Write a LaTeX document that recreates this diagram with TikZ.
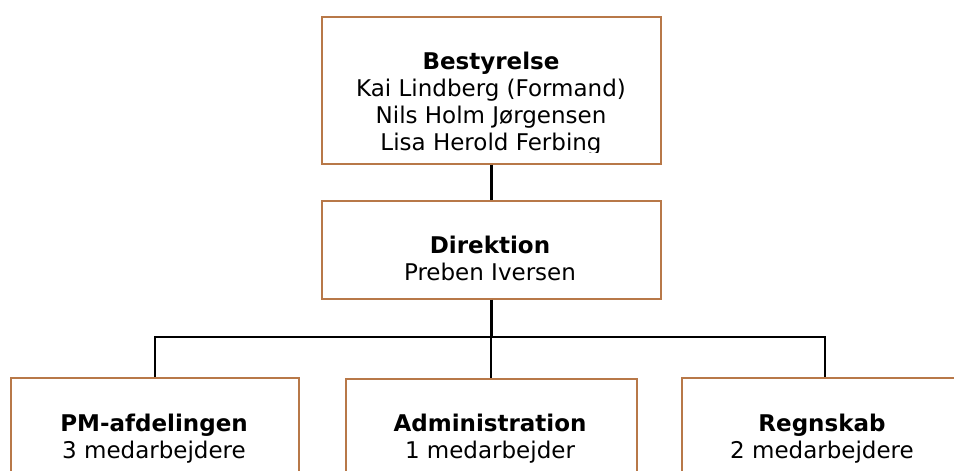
\documentclass[tikz,border=0pt]{standalone}
\usepackage{fontspec}
\setmainfont{DejaVu Sans}
\usetikzlibrary{positioning}
\definecolor{kobber}{RGB}{184,120,72}

\begin{document}
\begin{tikzpicture}
	[x=0.5pt,y=-0.5pt,every node/.style={font=\fontsize{11.5}{13.5}\selectfont,
		align=center,inner sep=0pt},
	boks/.style={rectangle,draw=kobber,line width=0.75pt,anchor=north west},
	streg/.style={black,line width=1pt}]
	\useasboundingbox (0,0) rectangle (954,471);
	\clip (0,0) rectangle (954,471);
	\node[boks,minimum width=169.5pt,minimum height=73.5pt] (best) at (321,16) {};
	\node[boks,minimum width=169.5pt,minimum height=49pt] (dir) at (321,200) {};
	\node[boks,minimum width=144pt,minimum height=75pt] (pm) at (10,377) {};
	\node[boks,minimum width=145.5pt,minimum height=75pt] (adm) at (345,378) {};
	\node[boks,minimum width=143pt,minimum height=75pt] (regn) at (681,377) {};
	\begin{scope}
	\clip (321,16) rectangle (660,152);
	\node (besttekst) at (491,104) {\textbf{Bestyrelse}\\Kai Lindberg (Formand)\\
		Nils Holm Jørgensen\\Lisa Herold Ferbing};
	\end{scope}
	\node (dirtekst) at (490,258) {\textbf{Direktion}\\Preben Iversen};
	\node (pmtekst) at (154,439) {\textbf{PM-afdelingen}\\3 medarbejdere};
	\node (admtekst) at (490,439) {\textbf{Administration}\\1 medarbejder};
	\node (regntekst) at (822,439) {\textbf{Regnskab}\\2 medarbejdere};
	\path (dir.south) ++(0,37) coordinate (gren);
	\draw [streg,line width=1.5pt] (best.south) to (dir.north);
	\draw [streg,line width=1.5pt] (dir.south) to (gren);
	\draw [streg] (pm.north) |- (gren) -| (regn.north);
	\draw [streg] (gren) to (adm.north |- gren) to (adm.north);
\end{tikzpicture}
\end{document}
